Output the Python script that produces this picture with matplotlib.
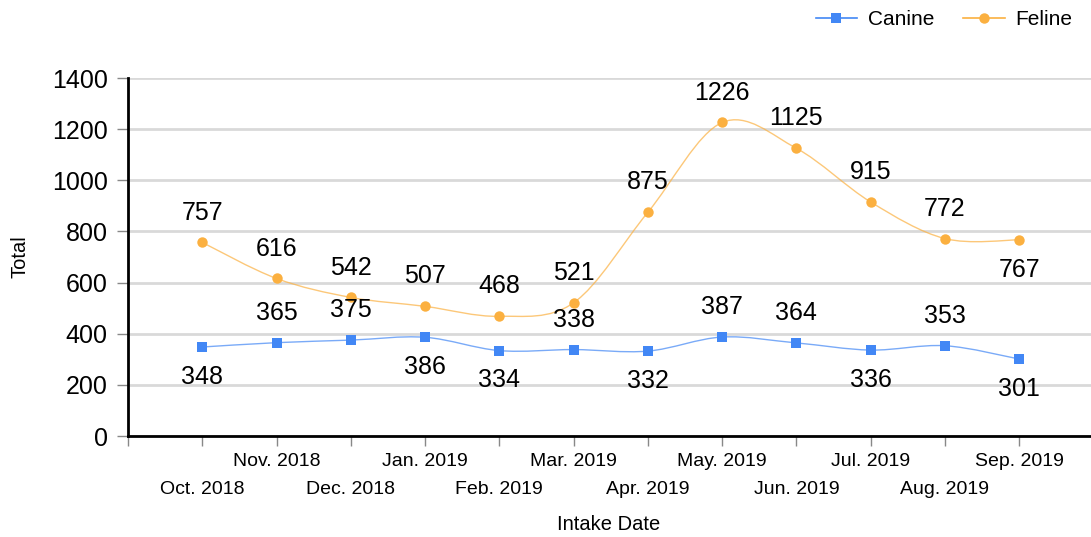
import matplotlib
matplotlib.use("Agg")
import matplotlib.pyplot as plt
from matplotlib.path import Path
from matplotlib.patches import PathPatch
from matplotlib.lines import Line2D
import numpy as np

plt.rcParams['font.family'] = ['Liberation Sans', 'DejaVu Sans']

months = ["Oct. 2018", "Nov. 2018", "Dec. 2018", "Jan. 2019", "Feb. 2019", "Mar. 2019",
          "Apr. 2019", "May. 2019", "Jun. 2019", "Jul. 2019", "Aug. 2019", "Sep. 2019"]
canine = [348, 365, 375, 386, 334, 338, 332, 387, 364, 336, 353, 301]
feline = [757, 616, 542, 507, 468, 521, 875, 1226, 1125, 915, 772, 767]
# label placement: 1 = above, -1 = below
canine_pos = [-1, 1, 1, -1, -1, 1, -1, 1, 1, -1, 1, -1]
feline_pos = [1, 1, 1, 1, 1, 1, 1, 1, 1, 1, 1, -1]

BLUE = "#4287f5"
ORANGE = "#fbb040"

W, H = 1091, 537
fig = plt.figure(figsize=(W / 100, H / 100), dpi=100)
ax = fig.add_axes([128 / W, 1 - 436 / H, (1093.5 - 128) / W, (436 - 78) / H])

x = np.arange(len(months), dtype=float)


def spline_path(xs, ys):
    pts = np.column_stack([xs, ys])
    ext = np.vstack([pts[0], pts, pts[-1]])
    verts = [tuple(pts[0])]
    codes = [Path.MOVETO]
    for i in range(len(pts) - 1):
        p0, p1, p2, p3 = ext[i], ext[i + 1], ext[i + 2], ext[i + 3]
        c1 = p1 + (p2 - p0) / 6.0
        c2 = p2 - (p3 - p1) / 6.0
        verts += [tuple(c1), tuple(c2), tuple(p2)]
        codes += [Path.CURVE4] * 3
    return Path(verts, codes)


for ys, col, mk in [(canine, BLUE, "s"), (feline, ORANGE, "o")]:
    patch = PathPatch(spline_path(x, ys), facecolor="none", edgecolor=col,
                      lw=1.0, alpha=0.7, zorder=3)
    ax.add_patch(patch)
    ax.plot(x, ys, linestyle="none", marker=mk, color=col, markersize=7.5,
            markeredgewidth=0, zorder=4)

for ys, pos in [(canine, canine_pos), (feline, feline_pos)]:
    for xi, yi, p in zip(x, ys, pos):
        ax.annotate(str(yi), (xi, yi), xytext=(0, 21.5 * p), textcoords="offset points",
                    ha="center", va="center", fontsize=18, color="black", zorder=5)

ax.set_xlim(-1, 12)
ax.set_ylim(0, 1400)
ax.set_yticks(np.arange(0, 1401, 200))
ax.yaxis.grid(True, color="#d9d9d9", lw=2)
ax.set_axisbelow(True)
ax.tick_params(axis="y", labelsize=18, length=8, width=1, color="#888888", pad=6.5)

ax.set_xticks(np.arange(-1, 12), minor=False)
ax.set_xticklabels([""] * 13)
ax.tick_params(axis="x", length=7, width=1, color="#888888")
for i, m in enumerate(months):
    off = -25 if i % 2 == 1 else -53
    ax.annotate(m, (x[i], 0), xytext=(0, off * 0.72), textcoords="offset points",
                ha="center", va="center", fontsize=14, annotation_clip=False)

for s in ["top", "right"]:
    ax.spines[s].set_visible(False)
for s in ["left", "bottom"]:
    ax.spines[s].set_linewidth(2)
    ax.spines[s].set_color("black")

fig.text(609 / W, 1 - 524 / H, "Intake Date", ha="center", va="center", fontsize=14.5)
fig.text(20 / W, 1 - 257 / H, "Total", ha="center", va="center", fontsize=14.5, rotation=90)

handles = [Line2D([], [], color=BLUE, marker="s", markersize=7.5, lw=1.2, markeredgewidth=0),
           Line2D([], [], color=ORANGE, marker="o", markersize=7.5, lw=1.2, markeredgewidth=0)]
fig.legend(handles, ["Canine", "Feline"], loc="upper right", bbox_to_anchor=(1.0, 1.016),
           ncol=2, frameon=False, fontsize=15, handlelength=2.0, handletextpad=0.5,
           columnspacing=1.4)

fig.savefig("out.png", dpi=100)
